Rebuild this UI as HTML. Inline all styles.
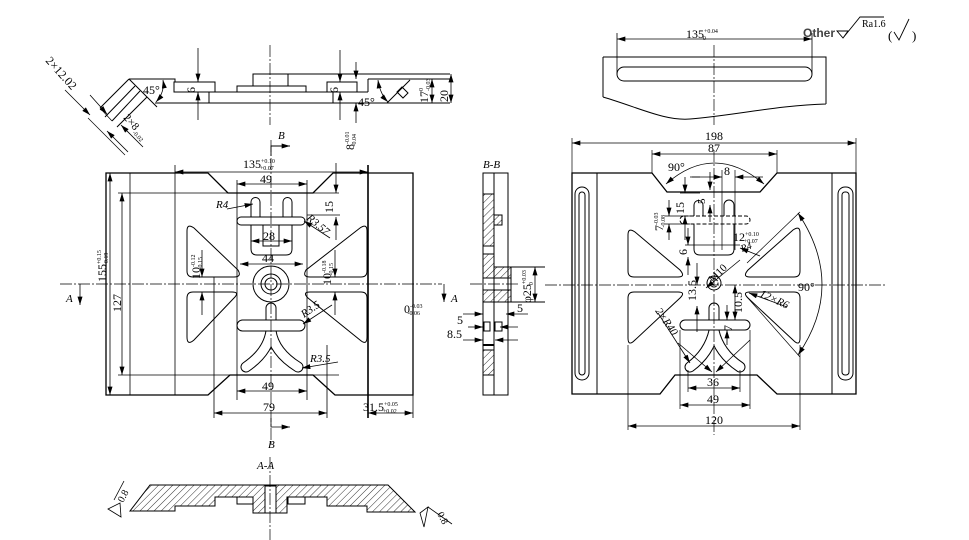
<!DOCTYPE html>
<html><head><meta charset="utf-8"><style>
html,body{margin:0;padding:0;background:#fff;}
svg{display:block;}
text{font-family:"Liberation Serif","Noto Serif CJK SC",serif;fill:#000;stroke:none;}
.d{marker-start:url(#ar);marker-end:url(#ar);}
.e{marker-end:url(#ar);}
.c{stroke-dasharray:12 2 2 2;stroke-width:0.7;}
.t{font-size:12px;}
.s{font-size:6px;}
.i{font-style:italic;font-size:11px;}
</style></head><body>
<svg width="969" height="540" viewBox="0 0 969 540" xmlns="http://www.w3.org/2000/svg">
<defs>
<marker id="ar" viewBox="0 0 10 6" refX="10" refY="3" markerWidth="9" markerHeight="5" orient="auto-start-reverse" markerUnits="userSpaceOnUse"><path d="M0,0L10,3L0,6z" fill="#000"/></marker>
<pattern id="h" width="5" height="5" patternUnits="userSpaceOnUse" patternTransform="rotate(45)"><line x1="0" y1="0" x2="0" y2="5" stroke="#000" stroke-width="0.8"/></pattern>
</defs>
<rect width="969" height="540" fill="#fff"/>

<g fill="none" stroke="#000" stroke-width="1">
<!-- ============ TOP-LEFT DETAIL ============ -->
<path d="M155,103H450 M253,74H450 M368,79H450 M368,79V92 M129,79H175V82 M215,92H237 M306,92H327 M357,92H368 M209,92V103 M333,92V103"/>
<rect x="174" y="82" width="41" height="10"/>
<rect x="237" y="86" width="69" height="6"/>
<rect x="253" y="74" width="35" height="12"/>
<rect x="327" y="82" width="30" height="10"/>
<path d="M129,79L157,107 M129,79L100,108 M135,86L105,117 M140,91L112,121 M147,97L117,127 M387,103L410,80"/>
<path d="M397,92L402,87L408,93L403,98Z"/>
<path d="M100,108L112,121 M88,118L125,155" stroke-width="0.7"/>
<line class="e" x1="65" y1="90" x2="90" y2="115" stroke-width="0.8"/>
<line class="e" x1="128" y1="152" x2="107" y2="131" stroke-width="0.8"/>
<line class="e" x1="90" y1="95" x2="107" y2="114" stroke-width="0.8"/>
<line class="e" x1="143" y1="147" x2="121" y2="125" stroke-width="0.8"/>
<path class="d" d="M163,80Q165,92 156,102" stroke-width="0.8"/>
<path class="d" d="M378,80Q380,94 388,102" stroke-width="0.8"/>
<line class="e" x1="198" y1="48" x2="198" y2="82" stroke-width="0.8"/>
<line class="e" x1="198" y1="120" x2="198" y2="92" stroke-width="0.8"/>
<line class="e" x1="340" y1="50" x2="340" y2="82" stroke-width="0.8"/>
<line class="e" x1="340" y1="120" x2="340" y2="92" stroke-width="0.8"/>
<line class="e" x1="356" y1="62" x2="356" y2="79" stroke-width="0.8"/>
<line class="e" x1="356" y1="123" x2="356" y2="103" stroke-width="0.8"/>
<line class="d" x1="432" y1="79" x2="432" y2="103" stroke-width="0.8"/>
<line class="d" x1="451" y1="74" x2="451" y2="103" stroke-width="0.8"/>
<line class="c" x1="270" y1="45" x2="270" y2="125"/>
<path class="e" d="M271,156V146H290" stroke-width="0.9"/>

<!-- ============ LEFT PLAN VIEW ============ -->
<path d="M271,331Q268,352 246,367 M271,331Q274,352 298,367" stroke="#000" stroke-width="11" stroke-linecap="round"/>
<path d="M271,331Q268,352 246,367 M271,331Q274,352 298,367" stroke="#fff" stroke-width="9" stroke-linecap="round"/>
<path d="M106,173H208L228,193H313L333,173H413V395H335L313,375H230L208,395H106Z" stroke-width="1.3"/>
<path d="M130,173V395 M175,165V395 M237,180V400 M307,180V400 M214,277V418 M327,345V418 M118,193H339 M118,375H339 M413,395V418 M307,215H340" stroke-width="0.8"/>
<path d="M368,165V418" stroke-width="1.6"/>
<path d="M187,231Q187,223 194,228L238,270Q242,277 234,277L193,277Q187,277 187,271Z"/>
<path d="M367,231Q367,223 360,228L306,270Q302,277 310,277L361,277Q367,277 367,271Z"/>
<path d="M187,298Q187,292 193,292L232,292Q240,292 234,298L194,340Q187,346 187,337Z"/>
<path d="M367,298Q367,292 361,292L310,292Q302,292 308,298L360,340Q367,346 367,337Z"/>
<rect x="237" y="217" width="68" height="8" rx="4"/>
<path d="M251,217V202A4.5,4.5 0 0 1 260,202V217 M283,217V202A4.5,4.5 0 0 1 292,202V217"/>
<path d="M251,225V249Q251,255 257,255H286Q292,255 292,249V225 M263,225V246H279V225"/>
<circle cx="271" cy="284" r="18"/>
<circle cx="271" cy="284" r="10"/>
<circle cx="271" cy="284" r="6"/>
<path d="M266,320V308A5,5 0 0 1 276,308V320"/>
<rect x="237" y="320" width="68" height="11" rx="5.5" fill="#fff"/>
<line class="c" x1="60" y1="284" x2="442" y2="284"/>
<line class="c" x1="271" y1="140" x2="271" y2="445"/>
<g stroke-width="0.8">
<line class="d" x1="175" y1="172" x2="368" y2="172"/>
<line class="d" x1="237" y1="184" x2="307" y2="184"/>
<line class="d" x1="251" y1="241" x2="292" y2="241"/>
<line class="d" x1="240" y1="264" x2="303" y2="264"/>
<line class="d" x1="110" y1="173" x2="110" y2="395"/>
<line class="d" x1="122" y1="193" x2="122" y2="375"/>
<line class="d" x1="237" y1="391" x2="307" y2="391"/>
<line class="d" x1="214" y1="413" x2="327" y2="413"/>
<line class="d" x1="368" y1="413" x2="413" y2="413"/>
<line class="e" x1="336" y1="163" x2="336" y2="193"/>
<line class="e" x1="336" y1="240" x2="336" y2="217"/>
<line class="e" x1="202" y1="250" x2="202" y2="277"/>
<line class="e" x1="202" y1="315" x2="202" y2="292"/>
<line class="e" x1="335" y1="250" x2="335" y2="277"/>
<line class="e" x1="335" y1="315" x2="335" y2="292"/>
<line class="e" x1="227" y1="209" x2="253" y2="204"/>
<line class="e" x1="330" y1="238" x2="304" y2="221"/>
<line class="e" x1="332" y1="305" x2="303" y2="324"/>
<line class="e" x1="338" y1="362" x2="302" y2="368"/>
<line class="e" x1="80" y1="284" x2="80" y2="305"/>
<line class="e" x1="444" y1="284" x2="444" y2="302"/>
<path class="e" d="M271,418V427H290"/>
</g>

<!-- ============ B-B SECTION ============ -->
<path d="M483,194H494V215H502V225H494V246H483Z" fill="url(#h)"/>
<path d="M483,254H494V267H511V278H483Z" fill="url(#h)"/>
<path d="M483,290H511V302H483Z" fill="url(#h)"/>
<rect x="483" y="350" width="11" height="25" fill="url(#h)"/>
<rect x="483" y="173" width="25" height="222"/>
<path d="M494,173V395 M511,267V302 M511,267H545 M511,302H545"/>
<rect x="484" y="322" width="6" height="9"/>
<rect x="495" y="322" width="7" height="9"/>
<path d="M483,345H494" stroke-width="2"/>
<line class="c" x1="470" y1="284" x2="520" y2="284"/>
<g stroke-width="0.8">
<line class="d" x1="535" y1="267" x2="535" y2="302"/>
<line class="e" x1="463" y1="314" x2="483" y2="314"/>
<line class="e" x1="528" y1="314" x2="506" y2="314"/>
<line class="e" x1="468" y1="327" x2="483" y2="327"/>
<line class="e" x1="518" y1="327" x2="500" y2="327"/>
<line class="e" x1="463" y1="340" x2="483" y2="340"/>
<line class="e" x1="518" y1="340" x2="495" y2="340"/>
</g>

<!-- ============ A-A SECTION ============ -->
<path d="M150,485H388L415,512H367V506H327V497H287V513H253V497H215V506H175V511H130Z" fill="url(#h)"/>
<rect x="265" y="486" width="11" height="27" fill="#fff"/>
<rect x="237" y="497" width="16" height="7"/>
<rect x="288" y="497" width="17" height="7"/>
<line class="c" x1="270" y1="457" x2="270" y2="540"/>
<path d="M124,481L114,500 M108,509L120,503L121,517Z M420,513L428,507L424,527Z M428,507L452,524" stroke-width="0.8"/>

<!-- ============ TOP-RIGHT ELEVATION ============ -->
<path d="M603,57H826V104 M603,57V97 M603,97C640,108 665,121 690,119C730,116 780,105 826,104"/>
<rect x="617" y="67" width="195" height="14" rx="7"/>
<path d="M617,33V74 M812,33V74" stroke-width="0.8"/>
<line class="d" x1="617" y1="39" x2="812" y2="39" stroke-width="0.8"/>
<line class="c" x1="714" y1="45" x2="714" y2="125"/>
<path d="M837,31H848L843,38Z M843,38L860,17H884" stroke-width="0.9"/>
<path d="M894,32L899,40L909,19" stroke-width="0.9"/>

<!-- ============ RIGHT PLAN VIEW ============ -->
<path d="M714,331Q709,353 690,367 M714,331Q719,353 740,367" stroke="#000" stroke-width="11" stroke-linecap="round"/>
<path d="M714,331Q709,353 690,367 M714,331Q719,353 740,367" stroke="#fff" stroke-width="9" stroke-linecap="round"/>
<path d="M572,173H652L667,192H760L777,173H856V394H777L757,375H675L660,394H572Z" stroke-width="1.3"/>
<path d="M597,173V394 M832,173V394"/>
<rect x="575" y="187" width="14" height="193" rx="7"/>
<rect x="579" y="192" width="6" height="183" rx="3"/>
<rect x="838" y="187" width="15" height="193" rx="7"/>
<rect x="842" y="192" width="7" height="183" rx="3"/>
<path d="M628,235Q628,227 635,232L680,270Q686,277 678,277L634,277Q628,277 628,271Z"/>
<path d="M800,233Q800,225 793,230L748,270Q742,277 750,277L794,277Q800,277 800,271Z"/>
<path d="M628,298Q628,292 634,292L678,292Q686,292 680,298L635,340Q628,347 628,338Z"/>
<path d="M800,298Q800,292 794,292L750,292Q742,292 748,298L793,340Q800,347 800,338Z"/>
<path d="M694,216V205A4.5,4.5 0 0 1 703,205V216 M724,216V205A5,5 0 0 1 734,205V216 M694,224V249Q694,255 700,255H728Q734,255 734,249V224"/>
<rect x="680" y="216" width="70" height="8" rx="4" stroke-dasharray="4 2"/>
<circle cx="714" cy="283" r="7"/>
<circle cx="714" cy="283" r="4" stroke-dasharray="2 1.5"/>
<path d="M709,320V308A5,5 0 0 1 719,308V320"/>
<rect x="680" y="320" width="70" height="10" rx="5" fill="#fff"/>
<path d="M652,150V173 M777,150V173 M572,138V173 M856,138V173 M628,345V430 M800,345V430 M680,330V409 M750,330V409 M688,370V392 M740,370V392 M722,170V250 M735,170V250 M747,263L800,212 M747,297L800,357 M680,193H700 M665,216H690 M665,224H690 M685,245H740 M690,177H700" stroke-width="0.7"/>
<line class="c" x1="545" y1="285" x2="885" y2="285"/>
<line class="c" x1="714" y1="150" x2="714" y2="435"/>
<g stroke-width="0.8">
<line class="d" x1="572" y1="143" x2="856" y2="143"/>
<line class="d" x1="652" y1="154" x2="777" y2="154"/>
<path class="d" d="M666,184Q714,142 764,184"/>
<path class="d" d="M798,213Q846,285 798,355"/>
<line class="d" x1="628" y1="426" x2="800" y2="426"/>
<line class="d" x1="680" y1="405" x2="750" y2="405"/>
<line class="d" x1="688" y1="388" x2="740" y2="388"/>
<line class="e" x1="692" y1="177" x2="722" y2="177"/>
<line class="e" x1="763" y1="177" x2="735" y2="177"/>
<line class="e" x1="685" y1="177" x2="685" y2="193"/>
<line class="e" x1="685" y1="240" x2="685" y2="216"/>
<line class="e" x1="669" y1="200" x2="669" y2="216"/>
<line class="e" x1="669" y1="240" x2="669" y2="224"/>
<line class="e" x1="688" y1="228" x2="688" y2="245"/>
<line class="e" x1="688" y1="275" x2="688" y2="257"/>
<line class="e" x1="710" y1="172" x2="710" y2="190"/>
<line class="e" x1="710" y1="222" x2="710" y2="205"/>
<line class="e" x1="760" y1="256" x2="740" y2="248"/>
<line class="e" x1="740" y1="260" x2="706" y2="288"/>
<line class="e" x1="697" y1="263" x2="697" y2="285"/>
<line class="e" x1="697" y1="332" x2="697" y2="306"/>
<line class="d" x1="735" y1="285" x2="735" y2="320"/>
<line class="e" x1="727" y1="305" x2="727" y2="320"/>
<line class="e" x1="727" y1="345" x2="727" y2="330"/>
<line class="e" x1="787" y1="307" x2="749" y2="293"/>
<line class="e" x1="658" y1="313" x2="690" y2="363"/>
<line class="e" x1="678" y1="343" x2="712" y2="372"/>
<line class="e" x1="750" y1="340" x2="716" y2="372"/>
</g>
</g>

<!-- ============ TEXT ============ -->
<g class="t">
<!-- top-left detail -->
<text class="t" transform="translate(45,61) rotate(48)" font-size="11">2×12.02</text>
<text transform="translate(123,118) rotate(48)" font-size="11">2×8<tspan font-size="6" dy="3">-0.02</tspan></text>
<text x="143" y="94" font-size="12">45°</text>
<text x="358" y="106" font-size="12">45°</text>
<text transform="translate(195,93) rotate(-90)" font-size="12">6</text>
<text transform="translate(338,93) rotate(-90)" font-size="12">6</text>
<text transform="translate(354,150) rotate(-90)" font-size="12">8<tspan font-size="6" dy="-5">-0.01</tspan><tspan font-size="6" dx="-15" dy="7">-0.04</tspan></text>
<text transform="translate(428,103) rotate(-90)" font-size="12">17<tspan font-size="6" dy="-5">0</tspan><tspan font-size="6" dx="-3" dy="7">-0.03</tspan></text>
<text transform="translate(448,102) rotate(-90)" font-size="12">20</text>
<text x="278" y="139" class="i">B</text>

<!-- left plan -->
<text x="243" y="168" font-size="12">135<tspan font-size="6" dy="-5">+0.10</tspan><tspan font-size="6" dx="-15" dy="7">+0.07</tspan></text>
<text x="266" y="183" font-size="12" text-anchor="middle">49</text>
<text transform="translate(333,213) rotate(-90)" font-size="12">15</text>
<text x="216" y="208" font-size="11" font-style="italic">R4</text>
<text transform="translate(306,219) rotate(40)" font-size="11" font-style="italic">R3.57</text>
<text x="269" y="240" font-size="12" text-anchor="middle">28</text>
<text x="268" y="262" font-size="12" text-anchor="middle">44</text>
<text transform="translate(200,279) rotate(-90)" font-size="12">10<tspan font-size="6" dy="-5">-0.12</tspan><tspan font-size="6" dx="-15" dy="7">-0.15</tspan></text>
<text transform="translate(331,285) rotate(-90)" font-size="12">10<tspan font-size="6" dy="-5">-0.18</tspan><tspan font-size="6" dx="-15" dy="7">-0.15</tspan></text>
<text transform="translate(106,282) rotate(-90)" font-size="12">155<tspan font-size="6" dy="-5">+0.15</tspan><tspan font-size="6" dx="-15" dy="7">-0.19</tspan></text>
<text transform="translate(121,312) rotate(-90)" font-size="12">127</text>
<text transform="translate(304,318) rotate(-35)" font-size="11" font-style="italic">R3.5</text>
<text x="310" y="362" font-size="11" font-style="italic">R3.5</text>
<text x="268" y="390" font-size="12" text-anchor="middle">49</text>
<text x="269" y="411" font-size="12" text-anchor="middle">79</text>
<text x="363" y="411" font-size="12">31.5<tspan font-size="6" dy="-5">+0.05</tspan><tspan font-size="6" dx="-15" dy="7">+0.02</tspan></text>
<text x="404" y="313" font-size="12">0<tspan font-size="6" dy="-5">-0.03</tspan><tspan font-size="6" dx="-15" dy="7">-0.06</tspan></text>
<text x="66" y="302" class="i">A</text>
<text x="451" y="302" class="i">A</text>
<text x="268" y="448" class="i">B</text>

<!-- B-B -->
<text x="483" y="168" class="i">B-B</text>
<text transform="translate(531,303) rotate(-90)" font-size="12">φ25<tspan font-size="6" dy="-5">+0.03</tspan><tspan font-size="6" dx="-15" dy="7">0</tspan></text>
<text x="517" y="312" font-size="12">5</text>
<text x="457" y="324" font-size="12">5</text>
<text x="447" y="338" font-size="12">8.5</text>

<!-- A-A -->
<text x="257" y="469" class="i">A-A</text>
<text transform="translate(123,503) rotate(-62)" font-size="10">0.8</text>
<text transform="translate(437,514) rotate(62)" font-size="10">0.8</text>

<!-- top-right -->
<text x="686" y="38" font-size="12">135<tspan font-size="6" dy="-5">+0.04</tspan><tspan font-size="6" dx="-15" dy="7">0</tspan></text>
<text x="803" y="37" style="font-family:'Liberation Sans',sans-serif;font-size:12px;font-weight:bold;fill:#444">Other</text>
<text x="862" y="27" font-size="10">Ra1.6</text>
<text x="888" y="40" font-size="13">(</text>
<text x="912" y="40" font-size="13">)</text>

<!-- right plan -->
<text x="714" y="140" font-size="12" text-anchor="middle">198</text>
<text x="714" y="152" font-size="12" text-anchor="middle">87</text>
<text x="668" y="171" font-size="12">90°</text>
<text x="724" y="175" font-size="12">8</text>
<text transform="translate(684,214) rotate(-90)" font-size="12">15</text>
<text transform="translate(705,204) rotate(-90)" font-size="11">5</text>
<text transform="translate(663,231) rotate(-90)" font-size="12">7<tspan font-size="6" dy="-5">-0.03</tspan><tspan font-size="6" dx="-15" dy="7">-0.08</tspan></text>
<text transform="translate(687,255) rotate(-90)" font-size="12">6</text>
<text x="733" y="241" font-size="12">12<tspan font-size="6" dy="-5">+0.10</tspan><tspan font-size="6" dx="-15" dy="7">+0.07</tspan></text>
<text transform="translate(742,252) rotate(-20)" font-size="10" font-style="italic">R4</text>
<text transform="translate(713,283) rotate(-45)" font-size="11">M10</text>
<text transform="translate(696,301) rotate(-90)" font-size="12">13.5</text>
<text transform="translate(742,313) rotate(-90)" font-size="12">10.5</text>
<text transform="translate(732,331) rotate(-90)" font-size="12">7</text>
<text transform="translate(759,296) rotate(25)" font-size="11" font-style="italic">12×R6</text>
<text transform="translate(655,311) rotate(55)" font-size="11" font-style="italic">2×R40</text>
<text x="798" y="291" font-size="12">90°</text>
<text x="713" y="386" font-size="12" text-anchor="middle">36</text>
<text x="713" y="403" font-size="12" text-anchor="middle">49</text>
<text x="714" y="424" font-size="12" text-anchor="middle">120</text>
</g>
</svg>
</body></html>
